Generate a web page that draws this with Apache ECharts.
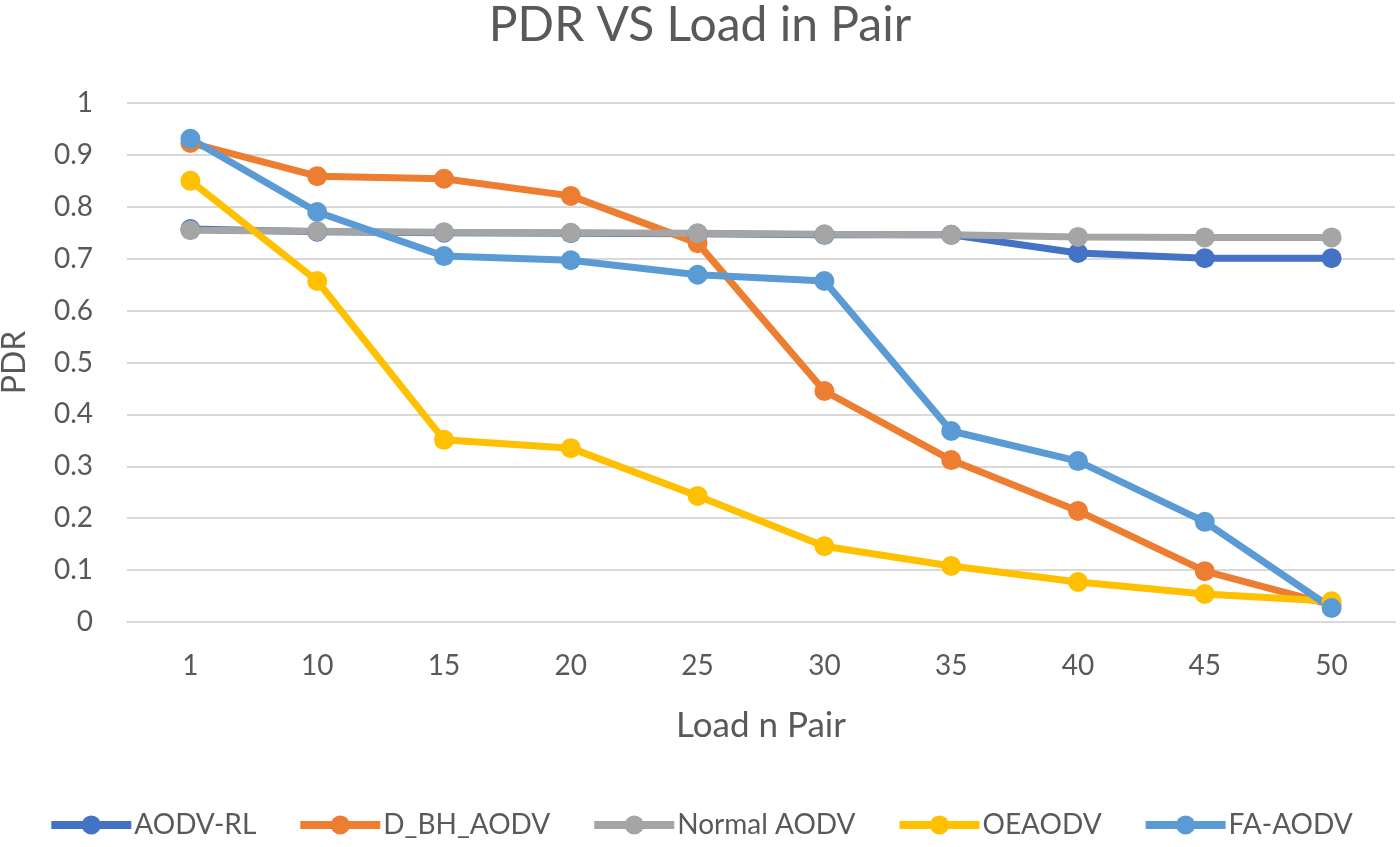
<!DOCTYPE html>
<html><head><meta charset="utf-8">
<script src="https://cdn.jsdelivr.net/npm/echarts@6/dist/echarts.min.js"></script>
<style>html,body{margin:0;padding:0;background:#fff}#c{width:1400px;height:847px}</style>
</head><body><div id="c"></div>
<script>
const categories = ['1','10','15','20','25','30','35','40','45','50'];
const aodvRL   = [0.757,0.752,0.750,0.749,0.748,0.746,0.746,0.711,0.701,0.701];
const dBhAodv  = [0.923,0.859,0.854,0.821,0.730,0.445,0.312,0.214,0.098,0.033];
const normal   = [0.755,0.753,0.751,0.750,0.749,0.747,0.746,0.742,0.741,0.741];
const oeaodv   = [0.850,0.657,0.351,0.335,0.243,0.146,0.108,0.077,0.054,0.040];
const faAodv   = [0.931,0.790,0.705,0.697,0.669,0.657,0.368,0.310,0.193,0.027];
const FONT = 'Lato';
const TXT = '#595959';
function s(name, data, color){
  return {name, type:'line', data, symbol:'circle', symbolSize:20,
    lineStyle:{width:7,color}, itemStyle:{color}, z:2};
}
const chart = echarts.init(document.getElementById('c'));
chart.setOption({
  animation:false,
  textStyle:{fontFamily:FONT},
  title:{text:'PDR VS Load in Pair', left:'center', top:-3,
    textStyle:{fontFamily:FONT, fontSize:48, fontWeight:'normal', color:TXT}},
  grid:{left:127, right:5, top:103, bottom:225, outerBoundsMode:'none', containLabel:false},
  xAxis:{type:'category', data:categories, boundaryGap:true,
    name:'Load n Pair', nameLocation:'middle', nameGap:86,
    nameTextStyle:{fontFamily:FONT, fontSize:35, color:TXT},
    axisLine:{lineStyle:{color:'#d9d9d9', width:2}}, axisTick:{show:false},
    axisLabel:{fontFamily:FONT, fontSize:28, color:TXT, margin:30}},
  yAxis:{type:'value', min:0, max:1, interval:0.1,
    name:'PDR', nameLocation:'middle', nameGap:96,
    nameTextStyle:{fontFamily:FONT, fontSize:32, color:TXT},
    axisLine:{show:false}, axisTick:{show:false},
    axisLabel:{fontFamily:FONT, fontSize:28, color:TXT, margin:34,
      formatter:v=>String(Math.round(v*10)/10)},
    splitLine:{lineStyle:{color:'#d9d9d9', width:2}}},
  legend:{bottom:3, left:'center', itemWidth:80, itemHeight:24, itemGap:40,
    lineStyle:{width:8},
    textStyle:{fontFamily:FONT, fontSize:28, color:TXT, padding:[0,0,0,-2]}},
  series:[
    s('AODV-RL', aodvRL, '#4472C4'),
    s('D_BH_AODV', dBhAodv, '#ED7D31'),
    s('Normal AODV', normal, '#A5A5A5'),
    s('OEAODV', oeaodv, '#FFC000'),
    s('FA-AODV', faAodv, '#5B9BD5')
  ]
});
</script></body></html>
